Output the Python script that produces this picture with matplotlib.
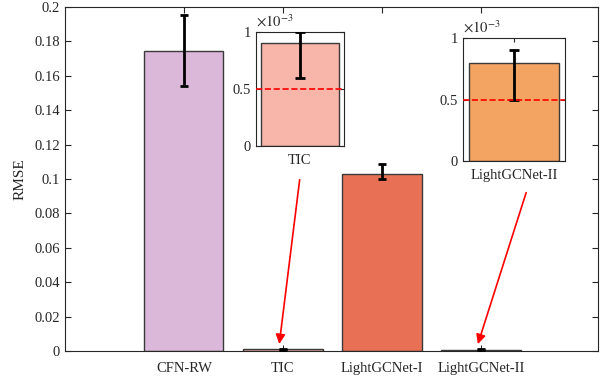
import matplotlib.pyplot as plt
from matplotlib.ticker import FuncFormatter
import numpy as np

plt.rcParams['font.family'] = ['Liberation Serif', 'DejaVu Serif']
plt.rcParams['mathtext.fontset'] = 'stix'

methods = ["CFN-RW", "TIC", "LightGCNet-I", "LightGCNet-II"]
rmse = [0.1744, 0.0009, 0.1029, 0.0008]
err_low = [0.154, 0.0006, 0.1000, 0.0005]
err_high = [0.1953, 0.0010, 0.1087, 0.0009]
colors = ["#dbb8da", "#f8b5aa", "#e87155", "#f4a462"]
ref_line = 0.0005

x = np.arange(1, len(methods) + 1)
rmse = np.array(rmse)
yerr = np.array([rmse - np.array(err_low), np.array(err_high) - rmse])

fig = plt.figure(figsize=(6.09, 3.81), dpi=100)
ax = fig.add_axes([0.1067, 0.0787, 0.875, 0.903])

ax.bar(x, rmse, width=0.8, color=colors, edgecolor="#3a3a3a", linewidth=1, zorder=2)
ax.errorbar(x, rmse, yerr=yerr, fmt="none", ecolor="black", elinewidth=2,
            capsize=3, capthick=2, zorder=3)
ax.set_xlim(-0.2, 5.18)
ax.set_ylim(0, 0.2)
ax.set_xticks(x)
ax.set_xticklabels(methods)
ax.set_yticks(np.arange(0, 0.201, 0.02))
ax.yaxis.set_major_formatter(FuncFormatter(lambda v, p: f"{v:.2f}".rstrip("0").rstrip(".")))
ax.tick_params(direction="in", top=True, right=True, labelsize=10.5, length=4,
               width=0.8, colors="#262626", labelcolor="#262626")
ax.tick_params(axis="x", pad=8)
for s in ax.spines.values():
    s.set_color("#262626")
    s.set_linewidth(0.8)
ax.set_ylabel("RMSE", fontsize=11, color="#262626", labelpad=6)


def inset(rect, i):
    ia = fig.add_axes(rect)
    ia.bar([1], [rmse[i]], width=0.8, color=colors[i], edgecolor="#3a3a3a", linewidth=1, zorder=2)
    ia.errorbar([1], [rmse[i]], yerr=yerr[:, i:i + 1], fmt="none", ecolor="black",
                elinewidth=2, capsize=3.5, capthick=2, zorder=3)
    ia.axhline(ref_line, color="red", linestyle="--", linewidth=1.2, zorder=4)
    ia.set_xlim(0.55, 1.45)
    ia.set_ylim(0, 0.001)
    ia.set_xticks([1])
    ia.set_xticklabels([methods[i]])
    ia.set_yticks([0, 0.0005, 0.001])
    ia.yaxis.set_major_formatter(FuncFormatter(lambda v, p: f"{v * 1e3:g}"))
    ia.text(0.0, 1.02, r"$\times10^{-3}$", transform=ia.transAxes, fontsize=10.5,
            color="#262626", ha="left", va="bottom")
    ia.tick_params(direction="in", top=True, right=True, labelsize=10.5, length=3,
                   width=0.8, colors="#262626", labelcolor="#262626")
    ia.tick_params(axis="x", pad=6)
    for s in ia.spines.values():
        s.set_color("#262626")
        s.set_linewidth(0.8)
    return ia


inset([0.420, 0.617, 0.1445, 0.299], 1)
inset([0.760, 0.577, 0.1675, 0.323], 3)

arrow = dict(arrowstyle="-|>", color="red", lw=1.2, mutation_scale=14)
ax.annotate("", xy=(1.96, 0.0025), xycoords="data",
            xytext=(300 / 609, 1 - 177 / 381), textcoords="figure fraction",
            arrowprops=arrow)
ax.annotate("", xy=(3.96, 0.0025), xycoords="data",
            xytext=(527 / 609, 1 - 190 / 381), textcoords="figure fraction",
            arrowprops=arrow)

fig.savefig("out.png", dpi=100)
